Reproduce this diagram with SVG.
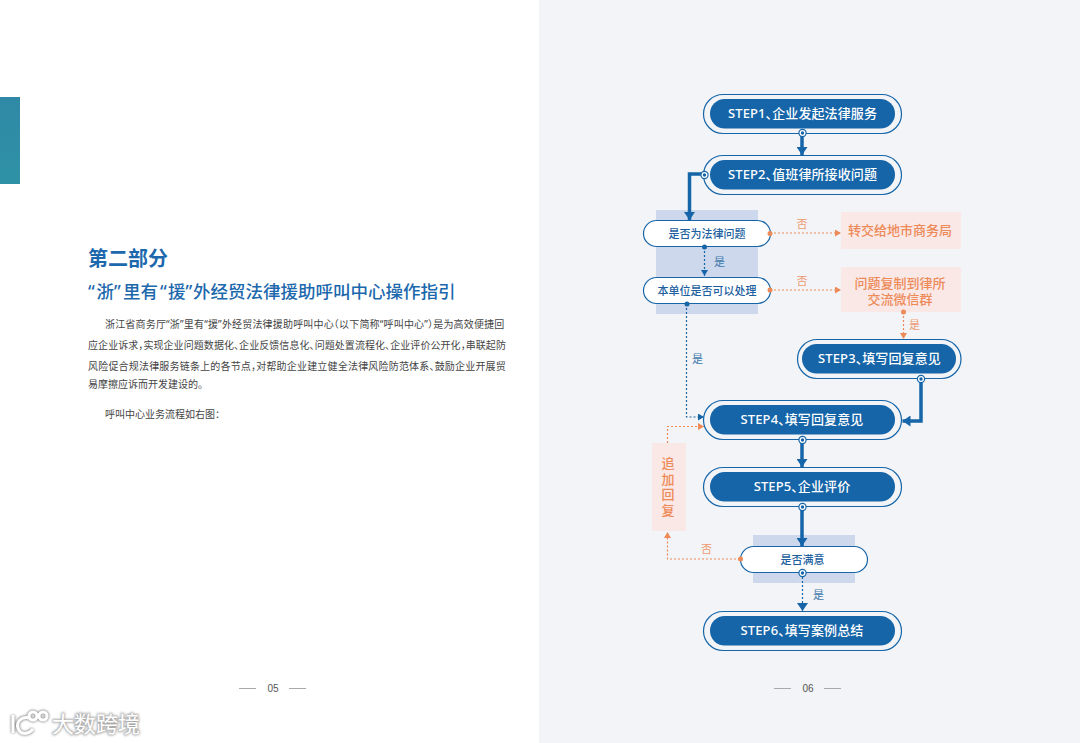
<svg xmlns="http://www.w3.org/2000/svg" width="1080" height="743" viewBox="0 0 1080 743">
<style>
text{font-family:"Noto Sans","Noto Sans CJK SC",sans-serif}
.outer{fill:#f3f4f7;stroke:#1565a8;stroke-width:1.2}
.inner{fill:#1565a8}
.step{fill:#fff;font-size:13px;font-weight:500;text-anchor:middle;letter-spacing:.1px;font-feature-settings:"halt"}
.dec{fill:#fff;stroke:#1565a8;stroke-width:1.2}
.dect{fill:#1d5f9f;font-size:11px;font-weight:500;text-anchor:middle}
.band{fill:#cdd8ec}
.obox{fill:#fae8e6}
.ot{fill:#ed8a58;font-size:13px;font-weight:500;text-anchor:middle}
.ol{fill:#ee9a70;font-size:11px;text-anchor:middle}
.bl{fill:#3f78ac;font-size:11px;text-anchor:middle}
.thick{fill:none;stroke:#1565a8;stroke-width:3.500}
.bdot{fill:none;stroke:#1565a8;stroke-width:1.2;stroke-dasharray:2 2}
.odot{fill:none;stroke:#ed8a58;stroke-width:1.2;stroke-dasharray:2 2}
.ring{fill:#fff;stroke:#1565a8;stroke-width:1.2}
.pd{fill:#1565a8}
.body{fill:#444;font-size:10px;font-feature-settings:"halt"}
.pn{fill:#555;font-size:10px;font-family:"Liberation Sans",sans-serif;text-anchor:middle}
.rule{stroke:#aaa;stroke-width:1}
.h2{font-size:17.500px;font-weight:500;fill:#1c68ad}
</style>
<defs>
<linearGradient id="tab" x1="0" y1="0" x2="0" y2="1"><stop offset="0" stop-color="#2f89a6"/><stop offset="1" stop-color="#2f92a6"/></linearGradient>
<filter id="glow" x="-20%" y="-30%" width="140%" height="160%"><feGaussianBlur stdDeviation="1"/></filter>
<marker id="ab" markerUnits="userSpaceOnUse" markerWidth="9" markerHeight="11" refX="8" refY="5.500" orient="auto"><path d="M0 0L8 5.500L0 11Z" fill="#1565a8"/></marker>
<marker id="abs" markerUnits="userSpaceOnUse" markerWidth="7" markerHeight="7" refX="6" refY="3.500" orient="auto"><path d="M0 0L6 3.500L0 7Z" fill="#1565a8"/></marker>
<marker id="aos" markerUnits="userSpaceOnUse" markerWidth="7" markerHeight="7" refX="6" refY="3.500" orient="auto"><path d="M0 0L6 3.500L0 7Z" fill="#ed8a58"/></marker>
</defs>
<rect width="1080" height="743" fill="#fff"/>
<rect x="539" width="541" height="743" fill="#f3f4f7"/>
<rect id="tab-bar" x="0" y="97" width="20" height="87" fill="url(#tab)"/>

<g id="left-text">
<text x="88" y="266" font-size="20" font-weight="700" fill="#1c68ad" style="font-family:'Noto Sans CJK SC',sans-serif">第二部分</text>
<text class="h2" y="298"><tspan x="88">“</tspan><tspan x="96.500">浙</tspan><tspan x="114">”</tspan><tspan x="123">里有</tspan><tspan x="160">“</tspan><tspan x="168">援</tspan><tspan x="185.500">”</tspan><tspan x="193">外经贸法律援助呼叫中心操作指引</tspan></text>
<text class="body" x="105" y="328" letter-spacing="0.180">浙江省商务厅“浙”里有“援”外经贸法律援助呼叫中心（以下简称“呼叫中心”）是为高效便捷回</text>
<text class="body" x="88" y="349" letter-spacing="0.068">应企业诉求，实现企业问题数据化、企业反馈信息化、问题处置流程化、企业评价公开化，串联起防</text>
<text class="body" x="88" y="370" letter-spacing="0.190">风险促合规法律服务链条上的各节点，对帮助企业建立健全法律风险防范体系、鼓励企业开展贸</text>
<text class="body" x="88" y="388">易摩擦应诉而开发建设的。</text>
<text class="body" x="105" y="418">呼叫中心业务流程如右图：</text>
</g>

<g id="page-05">
<line class="rule" x1="239" y1="688.500" x2="256" y2="688.500"/>
<line class="rule" x1="289" y1="688.500" x2="306" y2="688.500"/>
<text class="pn" x="273" y="692">05</text>
</g>
<g id="page-06">
<line class="rule" x1="774" y1="688.500" x2="791" y2="688.500"/>
<line class="rule" x1="824" y1="688.500" x2="841" y2="688.500"/>
<text class="pn" x="808" y="692">06</text>
</g>

<g id="watermark">
<g filter="url(#glow)" fill="none" stroke="#999" stroke-width="4.500">
<path d="M13 715V733M30 718C21 716 16 722 18 728C20 735 28 735 33 729"/>
<circle cx="33" cy="716" r="4"/><circle cx="43" cy="716" r="4"/>
</g>
<g fill="none" stroke="#fff" stroke-width="3">
<path d="M13 715V733M30 718C21 716 16 722 18 728C20 735 28 735 33 729"/>
<circle cx="33" cy="716" r="4"/><circle cx="43" cy="716" r="4"/>
</g>
<text x="52" y="731.500" font-size="22" fill="#aaa" stroke="#aaa" stroke-width="2" filter="url(#glow)" style="font-family:'Noto Sans CJK SC',sans-serif">大数跨境</text>
<text x="52" y="731.500" font-size="22" fill="#fff" style="font-family:'Noto Sans CJK SC',sans-serif">大数跨境</text>
</g>

<g id="bands">
<rect class="band" x="656" y="210" width="102" height="104"/>
<rect class="band" x="753" y="535" width="102" height="48"/>
</g>

<g id="connectors">
<path class="thick" d="M802 133V155" marker-end="url(#ab)"/>
<path class="thick" d="M704 174H689.500V220" marker-end="url(#ab)"/>
<path class="bdot" d="M704.500 247V276" marker-end="url(#abs)"/>
<path class="odot" d="M770 233H841" marker-end="url(#aos)"/>
<path class="odot" d="M770 290H841" marker-end="url(#aos)"/>
<path class="odot" d="M903.500 312V339" marker-end="url(#aos)"/>
<path class="bdot" d="M686.500 304V417H704" marker-end="url(#abs)"/>
<path class="odot" d="M667.500 443V426.500H704" marker-end="url(#aos)"/>
<path class="thick" d="M921 379V421H902.500" marker-end="url(#ab)"/>
<path class="thick" d="M802 440V467" marker-end="url(#ab)"/>
<path class="thick" d="M802 507V546" marker-end="url(#ab)"/>
<path class="bdot" d="M802.500 573V611" marker-end="url(#ab)"/>
<path class="odot" d="M740 559H667.500V532" marker-end="url(#aos)"/>
</g>

<g id="step1"><rect class="outer" x="703.500" y="94.500" width="198" height="39" rx="19.500"/><rect class="inner" x="710" y="99" width="185" height="29.500" rx="14.750"/><text class="step" x="802.500" y="118">STEP1、企业发起法律服务</text></g>
<g id="step2"><rect class="outer" x="703.500" y="155.500" width="198" height="39" rx="19.500"/><rect class="inner" x="710" y="160" width="185" height="29.500" rx="14.750"/><text class="step" x="802.500" y="179">STEP2、值班律所接收问题</text></g>
<g id="decision1"><rect class="dec" x="643.500" y="220.500" width="127" height="26" rx="13"/><text class="dect" x="707" y="237.500">是否为法律问题</text></g>
<g id="decision2"><rect class="dec" x="643.500" y="277.500" width="127" height="26" rx="13"/><text class="dect" x="707" y="294.500">本单位是否可以处理</text></g>
<g id="box1"><rect class="obox" x="841" y="212" width="120" height="37"/><text class="ot" x="900" y="235">转交给地市商务局</text></g>
<g id="box2"><rect class="obox" x="841" y="267" width="120" height="45"/><text class="ot" x="900" y="288">问题复制到律所</text><text class="ot" x="900" y="304">交流微信群</text></g>
<g id="step3"><rect class="outer" x="797.500" y="339.500" width="163.500" height="39" rx="19.500"/><rect class="inner" x="802" y="344" width="154" height="29.500" rx="14.750"/><text class="step" x="879.500" y="363">STEP3、填写回复意见</text></g>
<g id="step4"><rect class="outer" x="703.500" y="400.500" width="198" height="39" rx="19.500"/><rect class="inner" x="710" y="405" width="185" height="29.500" rx="14.750"/><text class="step" x="802" y="424">STEP4、填写回复意见</text></g>
<g id="step5"><rect class="outer" x="703.500" y="467.500" width="198" height="39" rx="19.500"/><rect class="inner" x="710" y="472" width="185" height="29.500" rx="14.750"/><text class="step" x="802" y="491">STEP5、企业评价</text></g>
<g id="decision3"><rect class="dec" x="740.500" y="546.500" width="127" height="26" rx="13"/><text class="dect" x="802.500" y="563.500">是否满意</text></g>
<g id="step6"><rect class="outer" x="703.500" y="611.500" width="198" height="39" rx="19.500"/><rect class="inner" x="710" y="616" width="185" height="29.500" rx="14.750"/><text class="step" x="802" y="635">STEP6、填写案例总结</text></g>
<g id="append"><rect class="obox" x="652" y="443" width="34" height="88"/>
<text x="668" y="456.500" writing-mode="vertical-rl" letter-spacing="2.700" style="fill:#ed8a58;font-size:13px;font-weight:500;font-family:'Noto Sans CJK SC',sans-serif">追加回复</text></g>

<g id="ports">
<circle class="ring" cx="802.500" cy="133" r="3.600"/><circle class="pd" cx="802.500" cy="133" r="1.700"/>
<circle class="ring" cx="704.500" cy="175" r="3.600"/><circle class="pd" cx="704.500" cy="175" r="1.700"/>
<circle class="ring" cx="921" cy="379" r="3.600"/><circle class="pd" cx="921" cy="379" r="1.700"/>
<circle class="ring" cx="802.500" cy="440" r="3.600"/><circle class="pd" cx="802.500" cy="440" r="1.700"/>
<circle class="ring" cx="802.500" cy="507" r="3.600"/><circle class="pd" cx="802.500" cy="507" r="1.700"/>
<circle class="ring" cx="802.500" cy="573" r="3.600"/><circle class="pd" cx="802.500" cy="573" r="1.700"/>
<circle class="pd" cx="704.500" cy="247" r="2.500"/>
<circle class="pd" cx="687" cy="304" r="2.500"/>
<circle cx="770" cy="233.500" r="2.500" fill="#ed8a58"/>
<circle cx="770" cy="290" r="2.500" fill="#ed8a58"/>
<circle cx="903.500" cy="312" r="2.500" fill="#ed8a58"/>
<circle cx="740.500" cy="559" r="2.500" fill="#ed8a58"/>
</g>

<g id="edge-labels">
<text class="ol" x="802" y="228">否</text>
<text class="ol" x="802" y="285">否</text>
<text class="bl" x="719.500" y="266">是</text>
<text class="ol" x="914.500" y="329">是</text>
<text class="bl" x="697.500" y="363">是</text>
<text class="ol" x="706.500" y="552.500">否</text>
<text class="bl" x="818.500" y="599">是</text>
</g>
</svg>
